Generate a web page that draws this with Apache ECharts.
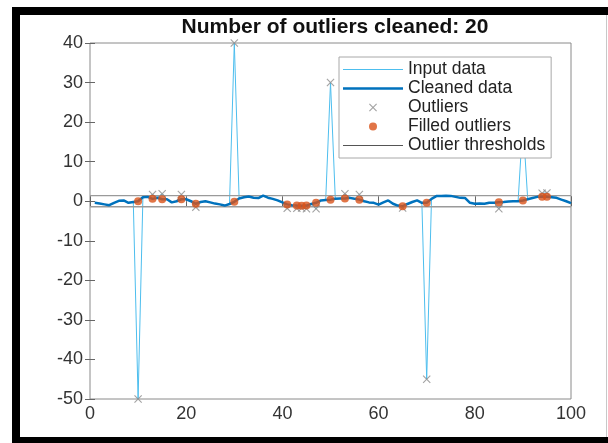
<!DOCTYPE html>
<html>
<head>
<meta charset="utf-8">
<script src="https://cdn.jsdelivr.net/npm/echarts@6/dist/echarts.min.js"></script>
<style>html,body{margin:0;padding:0;background:#fff}#c{width:608px;height:443px}</style>
</head>
<body>
<div id="c"></div>
<script>
const xIndex = [1,2,3,4,5,6,7,8,9,10,11,12,13,14,15,16,17,18,19,20,21,22,23,24,25,26,27,28,29,30,31,32,33,34,35,36,37,38,39,40,41,42,43,44,45,46,47,48,49,50,51,52,53,54,55,56,57,58,59,60,61,62,63,64,65,66,67,68,69,70,71,72,73,74,75,76,77,78,79,80,81,82,83,84,85,86,87,88,89,90,91,92,93,94,95,96,97,98,99,100];
const cleanedData = [-0.4,-0.6,-0.8,-1.0,-0.4,0.1,0.2,-0.4,-0.2,0.0,
 1.0,1.1,0.6,0.9,0.5,0.5,-0.3,0.0,0.5,0.5,
 0.0,-0.65,-0.2,0.0,-0.3,-0.6,-0.8,-1.1,-0.7,-0.15,
 0.7,1.0,1.2,0.9,0.8,1.4,0.9,0.6,0.2,-0.3,
 -0.8,-1.0,-1.1,-1.15,-1.1,-0.7,-0.4,0.2,0.3,0.4,
 0.6,0.7,0.7,0.85,0.6,0.4,0.0,-0.3,-0.4,-0.85,
 -0.3,0.2,-0.65,-1.1,-1.3,-0.7,-0.2,0.2,-0.4,-0.4,
 0.6,1.3,1.35,1.4,1.35,1.1,0.85,0.8,-0.4,-0.65,
 -0.6,-0.65,-0.4,-0.4,-0.25,-0.2,-0.1,0.0,0.0,0.2,
 0.5,0.8,1.1,1.1,1.1,1.0,0.85,0.4,0.0,-0.5];
const inputData = [-0.4,-0.6,-0.8,-1.0,-0.4,0.1,0.2,-0.4,-0.2,-50,
 1.0,1.1,1.7,0.9,1.9,0.5,-0.3,0.0,1.7,0.5,
 0.0,-1.5,-0.2,0.0,-0.3,-0.6,-0.8,-1.1,-0.7,40,
 0.7,1.0,1.2,0.9,0.8,1.4,0.9,0.6,0.2,-0.3,
 -1.8,-1.0,-1.8,-1.7,-1.9,-0.7,-1.9,0.2,0.3,30,
 0.6,0.7,1.9,0.85,0.6,1.7,0.0,-0.3,-0.4,-0.85,
 -0.3,0.2,-0.65,-1.1,-1.7,-0.7,-0.2,0.2,-0.4,-45,
 0.6,1.3,1.35,1.4,1.35,1.1,0.85,0.8,-0.4,-0.65,
 -0.6,-0.65,-0.4,-0.4,-1.9,-0.2,-0.1,0.0,0.0,20,
 0.5,0.8,1.1,2.0,2.1,1.0,0.85,0.4,0.0,-0.5];
const outlierX = [10,13,15,19,22,30,41,43,44,45,47,50,53,56,65,70,85,90,94,95];
const outlierValues = [-50,1.7,1.9,1.7,-1.5,40,-1.8,-1.8,-1.7,-1.9,-1.9,30,1.9,1.7,-1.7,-45,-1.9,20,2.0,2.1];
const filledValues = [0.0,0.6,0.5,0.5,-0.65,-0.15,-0.8,-1.1,-1.15,-1.1,-0.4,0.4,0.7,0.4,-1.3,-0.4,-0.25,0.2,1.1,1.1];
const thresholdX = [0,100];
const upperThreshold = [1.4,1.4];
const lowerThreshold = [-1.4,-1.4];
const xTicks = [0,20,40,60,80,100];
const yTicks = [-50,-40,-30,-20,-10,0,10,20,30,40];
const titleText = 'Number of outliers cleaned: 20';
const legendNames = ['Input data','Cleaned data','Outliers','Filled outliers','Outlier thresholds'];

const pair = (xs, ys) => xs.map((x, i) => [x, ys[i]]);
const xPath = 'path://M0,1L1,0L5,4L9,0L10,1L6,5L10,9L9,10L5,6L1,10L0,9L4,5Z';
const FONT = '"Liberation Sans", Arial, sans-serif';
// legend line icon: a horizontal bar of given thickness inside a 60x8 box (tiny corner anchors fix the box)
const lineIcon = t => 'path://M0,0h0.01v0.01h-0.01Z M0,' + (4 - t/2) + 'H60V' + (4 + t/2) + 'H0Z M59.99,7.99h0.01v0.01h-0.01Z';
const legendIcons = {'Input data': lineIcon(1), 'Cleaned data': lineIcon(2.5), 'Outlier thresholds': lineIcon(1)};

const chart = echarts.init(document.getElementById('c'), null, {renderer: 'canvas'});
chart.setOption({
  animation: false,
  backgroundColor: '#fff',
  title: {
    text: titleText, left: 330, top: 12, textAlign: 'center',
    textStyle: {fontFamily: FONT, fontWeight: 'bold', fontSize: 21, color: '#111'}
  },
  grid: {left: 90, top: 43, width: 481, height: 356, show: true, borderColor: '#8a8a8a', borderWidth: 1, backgroundColor: '#fff'},
  legend: {
    orient: 'vertical', left: 339, top: 57,
    data: legendNames.map(n => legendIcons[n] ? {name: n, icon: legendIcons[n]} : {name: n}),
    itemWidth: 60, itemHeight: 8, itemGap: 0,
    padding: [3, 6, 3, 4],
    backgroundColor: '#fff', borderColor: '#a8a8a8', borderWidth: 1,
    textStyle: {fontFamily: FONT, fontSize: 17.5, color: '#222', lineHeight: 19},
    z: 20
  },
  xAxis: [{
    type: 'value', min: xTicks[0], max: xTicks[xTicks.length-1], interval: 20,
    axisLine: {show: false}, splitLine: {show: false},
    axisTick: {show: true, inside: true, length: 5, lineStyle: {color: '#666'}},
    axisLabel: {fontFamily: FONT, fontSize: 18, color: '#333', margin: 6}
  }, {
    type: 'value', position: 'top', min: xTicks[0], max: xTicks[xTicks.length-1], interval: 20,
    axisLine: {show: false}, splitLine: {show: false},
    axisTick: {show: true, inside: true, length: 5, lineStyle: {color: '#666'}},
    axisLabel: {show: false}
  }],
  yAxis: [{
    type: 'value', min: yTicks[0], max: yTicks[yTicks.length-1], interval: 10,
    axisLine: {show: false}, splitLine: {show: false},
    axisTick: {show: true, inside: true, length: 5, lineStyle: {color: '#666'}},
    axisLabel: {fontFamily: FONT, fontSize: 18, color: '#333', margin: 7}
  }, {
    type: 'value', position: 'right', min: yTicks[0], max: yTicks[yTicks.length-1], interval: 10,
    axisLine: {show: false}, splitLine: {show: false},
    axisTick: {show: true, inside: true, length: 5, lineStyle: {color: '#666'}},
    axisLabel: {show: false}
  }],
  series: [
    {name: 'Input data', type: 'line', data: pair(xIndex, inputData), symbol: 'none',
     lineStyle: {color: '#4DBEEE', width: 1}, itemStyle: {color: '#4DBEEE'}, z: 2},
    {name: 'Outlier thresholds', type: 'line', data: pair(thresholdX, upperThreshold), symbol: 'none',
     lineStyle: {color: '#9a9a9a', width: 1.3}, itemStyle: {color: '#555'}, z: 3},
    {name: 'Outlier thresholds', type: 'line', data: pair(thresholdX, lowerThreshold), symbol: 'none',
     lineStyle: {color: '#9a9a9a', width: 1.3}, itemStyle: {color: '#555'}, z: 3},
    {name: 'Cleaned data', type: 'line', data: pair(xIndex, cleanedData), symbol: 'none',
     lineStyle: {color: '#0072BD', width: 2.5}, itemStyle: {color: '#0072BD'}, z: 4},
    {name: 'Outliers', type: 'scatter', data: pair(outlierX, outlierValues), symbol: xPath, symbolSize: 8,
     itemStyle: {color: '#8c8c8c'}, z: 5},
    {name: 'Filled outliers', type: 'scatter', data: pair(outlierX, filledValues), symbol: 'circle', symbolSize: 8,
     itemStyle: {color: '#D95319'}, z: 6}
  ],
  graphic: [
    {type: 'rect', shape: {x: 12, y: 7, width: 596, height: 8}, style: {fill: '#000'}, z: 100},
    {type: 'rect', shape: {x: 12, y: 7, width: 8, height: 436}, style: {fill: '#000'}, z: 100},
    {type: 'rect', shape: {x: 12, y: 437, width: 596, height: 6}, style: {fill: '#000'}, z: 100},
    {type: 'line', shape: {x1: 606.5, y1: 15, x2: 606.5, y2: 437}, style: {stroke: '#c8c8c8', lineWidth: 1}, z: 100}
  ]
});
</script>
</body>
</html>
